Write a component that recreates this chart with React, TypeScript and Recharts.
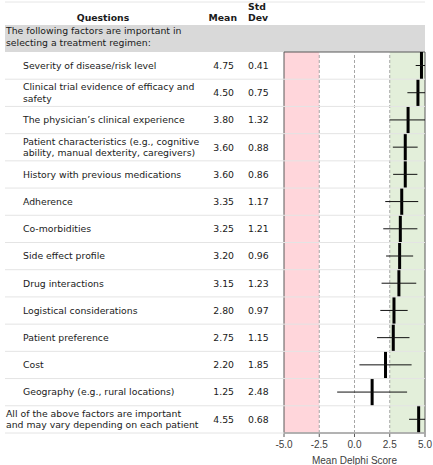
import { ComposedChart, Bar, ErrorBar, XAxis, YAxis, ReferenceArea, ReferenceLine } from 'recharts'

const questions = [
  'Severity of disease/risk level',
  'Clinical trial evidence of efficacy and\nsafety',
  'The physician\u2019s clinical experience',
  'Patient characteristics (e.g., cognitive\nability, manual dexterity, caregivers)',
  'History with previous medications',
  'Adherence',
  'Co-morbidities',
  'Side effect profile',
  'Drug interactions',
  'Logistical considerations',
  'Patient preference',
  'Cost',
  'Geography (e.g., rural locations)',
  'All of the above factors are important\nand may vary depending on each patient',
]
const means = [4.75, 4.5, 3.8, 3.6, 3.6, 3.35, 3.25, 3.2, 3.15, 2.8, 2.75, 2.2, 1.25, 4.55]
const sds = [0.41, 0.75, 1.32, 0.88, 0.86, 1.17, 1.21, 0.96, 1.23, 0.97, 1.15, 1.85, 2.48, 0.68]
const xTicks = [-5, -2.5, 0, 2.5, 5]
const groupTitle = ['The following factors are important in', 'selecting a treatment regimen:']

const rows = questions.map((name, i) => ({ name, mean: means[i], sd: sds[i] }))

const W = 433
const H = 465
const TOP = 52
const BOTTOM = 32
const PLOT_LEFT = 284
const PLOT_RIGHT = 425
const X_MIN = -5
const X_MAX = 5
const ROW_H = (H - TOP - BOTTOM) / rows.length
const FONT = '"DejaVu Sans", Verdana, sans-serif'
const FS = 9.3
const AXIS_FONT = '"Liberation Sans", Arial, sans-serif'

function RowTick(props: any) {
  const { y, payload } = props
  const i = payload.index
  const row = rows[i]
  const lines = row.name.split('\n')
  const tx = i < rows.length - 1 ? 23 : 6
  const lh = 11.5
  return (
    <g>
      {lines.map((ln: string, k: number) => (
        <text key={k} x={tx} y={y + (k - (lines.length - 1) / 2) * lh} dy="0.35em" fontFamily={FONT} fontSize={FS} fill="#1a1a1a">
          {ln}
        </text>
      ))}
      <text x={234} y={y} dy="0.35em" textAnchor="end" fontFamily={FONT} fontSize={FS} fill="#1a1a1a">
        {row.mean.toFixed(2)}
      </text>
      <text x={248} y={y} dy="0.35em" fontFamily={FONT} fontSize={FS} fill="#1a1a1a">
        {row.sd.toFixed(2)}
      </text>
      <line x1={5} x2={PLOT_RIGHT} y1={y + ROW_H / 2} y2={y + ROW_H / 2} stroke="#e4e4e4" strokeWidth={1} />
    </g>
  )
}

function MeanMark(props: any) {
  const { x, y, width, height } = props
  const xe = x + width
  return <rect x={xe - 1.5} y={y} width={3} height={height} fill="#000" />
}

// whiskers are cut at the plot edges, as in the original
const errorRange = (d: any) => [Math.min(d.sd, d.mean - X_MIN), Math.min(d.sd, X_MAX - d.mean)]

export default function App() {
  return (
    <div style={{ position: 'absolute', left: 0, top: 0, width: W, height: H, background: '#fff' }}>
      <svg width={W} height={H} style={{ position: 'absolute', left: 0, top: 0 }}>
        <line x1={5} x2={PLOT_RIGHT} y1={2} y2={2} stroke="#e6e6e6" />
        <text x={103} y={21} textAnchor="middle" fontFamily={FONT} fontSize={FS} fontWeight="bold" fill="#1a1a1a">
          Questions
        </text>
        <text x={237} y={21} textAnchor="end" fontFamily={FONT} fontSize={FS} fontWeight="bold" fill="#1a1a1a">
          Mean
        </text>
        <text x={248} y={10} fontFamily={FONT} fontSize={FS} fontWeight="bold" fill="#1a1a1a">
          Std
        </text>
        <text x={248} y={21} fontFamily={FONT} fontSize={FS} fontWeight="bold" fill="#1a1a1a">
          Dev
        </text>
        <rect x={5} y={25} width={PLOT_RIGHT - 5} height={TOP - 25} fill="#d9d9d9" />
        {groupTitle.map((t, k) => (
          <text key={k} x={6} y={34 + k * 12} fontFamily={FONT} fontSize={FS} fill="#1a1a1a">
            {t}
          </text>
        ))}
      </svg>
      <div style={{ position: 'absolute', left: 0, top: 0 }}>
        <ComposedChart
          width={W}
          height={H}
          data={rows}
          layout="vertical"
          barCategoryGap={0}
          margin={{ top: TOP, right: W - PLOT_RIGHT, bottom: 0, left: 0 }}
        >
          <ReferenceArea x1={-5} x2={-2.5} fill="#ffd6db" fillOpacity={1} stroke="none" />
          <ReferenceArea x1={2.5} x2={5} fill="#e3efda" fillOpacity={1} stroke="none" />
          {[-2.5, 0, 2.5].map((v) => (
            <ReferenceLine key={v} x={v} stroke="#a6a6a6" strokeDasharray="3 2" />
          ))}
          <XAxis
            type="number"
            domain={[X_MIN, X_MAX]}
            ticks={xTicks}
            allowDataOverflow
            height={BOTTOM}
            tickFormatter={(v: number) => v.toFixed(1)}
            tick={{ fontFamily: AXIS_FONT, fontSize: 10, fill: '#404040' }}
            tickSize={4}
            tickMargin={4}
            stroke="#595959"
            label={{ value: 'Mean Delphi Score', position: 'insideBottom', offset: 1, fontFamily: AXIS_FONT, fontSize: 10, fill: '#404040' }}
          />
          <YAxis
            type="category"
            dataKey="name"
            width={PLOT_LEFT}
            axisLine={false}
            tickLine={false}
            interval={0}
            tick={(p: any) => <RowTick {...p} />}
          />
          <Bar dataKey="mean" shape={(p: any) => <MeanMark {...p} />} isAnimationActive={false}>
            <ErrorBar dataKey={errorRange} direction="x" width={0} stroke="#111" strokeWidth={1} isAnimationActive={false} />
          </Bar>
          <ReferenceArea x1={-5} x2={5} fill="none" stroke="#595959" strokeWidth={1} />
        </ComposedChart>
      </div>
    </div>
  )
}
